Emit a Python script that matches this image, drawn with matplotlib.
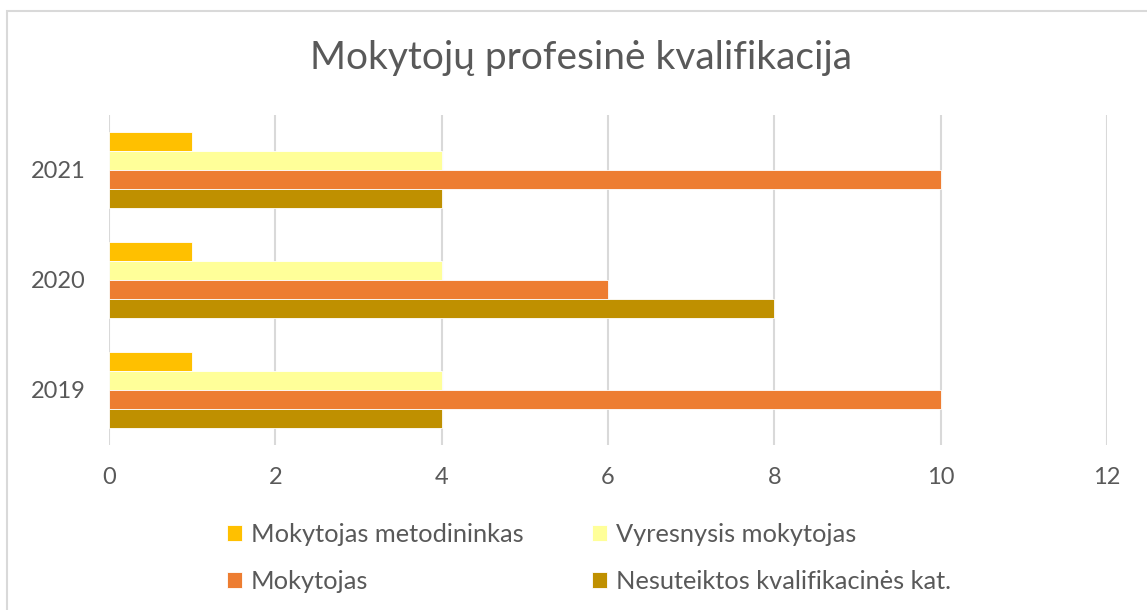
import matplotlib.pyplot as plt
import numpy as np
from matplotlib.patches import Rectangle

plt.rcParams['font.family'] = ['Lato', 'DejaVu Sans']

years = ['2019', '2020', '2021']
metodininkas = [1, 1, 1]
vyresnysis = [4, 4, 4]
mokytojas = [10, 6, 10]
nesuteiktos = [4, 8, 4]

series = [
    ('Mokytojas metodininkas', metodininkas, '#FFC000'),
    ('Vyresnysis mokytojas', vyresnysis, '#FFFF99'),
    ('Mokytojas', mokytojas, '#ED7D31'),
    ('Nesuteiktos kvalifikacinės kat.', nesuteiktos, '#BF9000'),
]

W, H = 1147, 610
fig = plt.figure(figsize=(W / 100, H / 100), dpi=100)
# chart frame, cut off at the right and bottom edges
fig.patches.append(Rectangle((7 / W, -0.1), 1.2, 1.1 - 11 / H, transform=fig.transFigure,
                             fill=False, edgecolor='#D9D9D9', linewidth=1.5))

ax = fig.add_axes([109 / W, (H - 445) / H, (1107 - 109) / W, (445 - 115) / H])

y = np.arange(len(years))
bh = 0.173
handles = []
for i, (name, vals, color) in enumerate(series):
    offset = (1.5 - i) * bh
    b = ax.barh(y + offset, vals, height=bh, color=color, edgecolor='white',
                linewidth=0.6, label=name, zorder=3)
    handles.append(b)

ax.set_xlim(0, 12)
ax.set_ylim(-0.5, 2.5)
ax.set_xticks(range(0, 13, 2))
ax.set_yticks(y)
ax.set_yticklabels(years)
ax.grid(axis='x', color='#D9D9D9', linewidth=1.5, zorder=0)
for s in ax.spines.values():
    s.set_visible(False)
ax.tick_params(length=0, labelsize=17, colors='#595959')
ax.tick_params(axis='x', pad=16)
ax.tick_params(axis='y', pad=17)

fig.text(581 / W, 1 - 58 / H, 'Mokytojų profesinė kvalifikacija', ha='center', va='center',
         fontsize=28, color='#595959')

order = [handles[0], handles[2], handles[1], handles[3]]
labels = [h.get_label() for h in order]
fig.legend(order, labels, ncol=2, loc='center left', bbox_to_anchor=(204 / W, 1 - 558 / H),
           frameon=False, fontsize=18.3, labelcolor='#595959', handlelength=0.59,
           handleheight=0.59, handletextpad=0.35, columnspacing=2.7, labelspacing=0.96)

fig.savefig('out.png', dpi=100)
